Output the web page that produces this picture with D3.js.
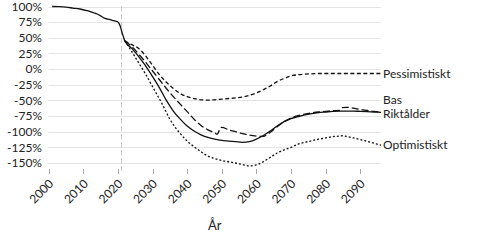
<!DOCTYPE html>
<html>
<head>
<meta charset="utf-8">
<script src="https://cdn.jsdelivr.net/npm/d3@7"></script>
<style>
  html, body { margin: 0; padding: 0; background: #fff; }
  svg { display: block; font-family: Lato, "Open Sans", sans-serif; }
</style>
</head>
<body>
<svg id="chart" width="480" height="240"></svg>
<script>
// ---- data ----
const xTicks = [2000, 2010, 2020, 2030, 2040, 2050, 2060, 2070, 2080, 2090];
const yTicks = [100, 75, 50, 25, 0, -25, -50, -75, -100, -125, -150];
const forecastStart = 2021;
const axisTitle = "År";

const bas = [
  [2001,100],[2003,99.7],[2005,99],[2007,97.5],[2009,96],[2011,93.5],[2012,92],[2013,90],
  [2014,88],[2015,85],[2016,81.5],[2017,80],[2018,78.5],[2019,77],[2019.8,76],[2020.3,73],
  [2020.7,68],[2021.1,60],[2021.5,53],[2022,45],[2024,33],[2026,20],[2028,5],[2030,-12],
  [2032,-30],[2034,-50],[2036,-67],[2038,-80],[2040,-91],[2042,-99],[2044,-105],[2046,-109],
  [2048,-112],[2050,-114],[2052,-115],[2054,-116],[2056,-117],[2058,-116],[2060,-112],
  [2062,-106],[2064,-99],[2066,-91],[2068,-84],[2070,-79],[2072,-76],[2074,-73],[2076,-71],
  [2078,-69.5],[2080,-68.5],[2082,-67.5],[2084,-67],[2086,-67],[2088,-67],[2090,-67.5],
  [2092,-68],[2094,-68.5],[2096,-69]
];
const riktalder = [
  [2022,45],[2024,36],[2026,24],[2028,11],[2030,-3],[2032,-17],[2034,-31],[2036,-44],
  [2038,-56],[2040,-68],[2042,-80],[2044,-90],[2046,-97],[2048,-102],[2048.7,-104],
  [2049.6,-94],[2050,-93],[2052,-97],[2054,-100],[2056,-103],[2058,-105.5],[2060,-107],
  [2062,-107.5],[2063,-105],[2064,-101],[2066,-92],[2068,-84],[2070,-78],[2072,-74.5],
  [2074,-72],[2076,-70],[2078,-68.5],[2080,-67.5],[2082,-66.5],[2084,-66],[2084.8,-61.5],
  [2086,-61],[2088,-62.5],[2090,-64.5],[2092,-66],[2094,-67.5],[2096,-68.5]
];
const pessimistiskt = [
  [2022,45],[2024,39],[2026,33],[2028,21],[2030,6],[2032,-9],[2034,-21],[2036,-31],
  [2038,-39],[2040,-44],[2042,-47],[2044,-49],[2046,-49.5],[2048,-49],[2050,-48],
  [2052,-47],[2054,-46],[2056,-44.5],[2058,-42],[2060,-38],[2062,-33],[2064,-27],
  [2066,-20],[2068,-15],[2070,-11],[2072,-9],[2074,-8],[2076,-7.5],[2078,-7],[2080,-7],
  [2084,-7],[2088,-7],[2092,-7],[2096,-7]
];
const optimistiskt = [
  [2022,45],[2024,28],[2026,10],[2028,-8],[2030,-28],[2031,-38],[2033,-58],[2035,-80],
  [2038,-103],[2040,-115],[2042,-124],[2044,-132],[2046,-139],[2048,-143],[2050,-146],
  [2052,-148],[2054,-150],[2056,-152.5],[2058,-154.5],[2060,-153],[2062,-148],[2064,-141],
  [2066,-134],[2068,-129],[2070,-125],[2072,-120],[2074,-117],[2076,-114.5],[2078,-112],
  [2080,-110],[2082,-108],[2084,-107],[2085,-106.5],[2086,-107.5],[2088,-110],[2090,-112.5],
  [2092,-115.5],[2094,-118.5],[2096,-121.5]
];
const seriesNames = ["Bas", "Riktålder", "Pessimistiskt", "Optimistiskt"];

// ---- chart ----
const svg = d3.select("#chart");
const x = d3.scaleLinear().domain([2000, 2096]).range([48.7, 381]);
const y = d3.scaleLinear().domain([-150, 100]).range([163, 6.5]);

// gridlines
svg.append("g").selectAll("line").data(yTicks).join("line")
  .attr("x1", x(2000)).attr("x2", x(2096))
  .attr("y1", d => Math.round(y(d)) + 0.5).attr("y2", d => Math.round(y(d)) + 0.5)
  .attr("stroke", "#e4e4e4").attr("stroke-width", 1);

// y labels
svg.append("g").selectAll("text").data(yTicks).join("text")
  .attr("x", 42).attr("y", d => y(d)).attr("dy", "0.36em")
  .attr("text-anchor", "end").attr("font-size", 12).attr("fill", "#222")
  .text(d => d + "%");

// x ticks
const xg = svg.append("g");
xg.selectAll("line").data(xTicks).join("line")
  .attr("x1", d => Math.round(x(d)) + 0.5).attr("x2", d => Math.round(x(d)) + 0.5)
  .attr("y1", 169).attr("y2", 174)
  .attr("stroke", "#aaa").attr("stroke-width", 1);
xg.selectAll("text").data(xTicks).join("text")
  .attr("transform", d => `translate(${x(d) + 5.5},184.5) rotate(-45)`)
  .attr("text-anchor", "end").attr("font-size", 12).attr("fill", "#222")
  .text(d => d);

// forecast start marker
svg.append("line")
  .attr("x1", Math.round(x(forecastStart)) + 0.5).attr("x2", Math.round(x(forecastStart)) + 0.5)
  .attr("y1", 6).attr("y2", 174)
  .attr("stroke", "#c8c8c8").attr("stroke-width", 1).attr("stroke-dasharray", "5,3");

// axis title
svg.append("text").attr("x", (x(2000) + x(2096)) / 2).attr("y", 230)
  .attr("text-anchor", "middle").attr("font-size", 13).attr("fill", "#222").text(axisTitle);

// lines
const line = d3.line().x(d => x(d[0])).y(d => y(d[1])).curve(d3.curveMonotoneX);
const series = [
  { name: seriesNames[0], data: bas, dash: null, dy: -13 },
  { name: seriesNames[1], data: riktalder, dash: "7,3", dy: 1.5 },
  { name: seriesNames[2], data: pessimistiskt, dash: "4,2.5", dy: 0 },
  { name: seriesNames[3], data: optimistiskt, dash: "2,2", dy: 0 }
];
svg.append("g").selectAll("path").data(series).join("path")
  .attr("d", d => line(d.data))
  .attr("fill", "none").attr("stroke", "#111").attr("stroke-width", 1.3)
  .attr("stroke-dasharray", d => d.dash);

svg.append("g").selectAll("text").data(series).join("text")
  .attr("x", 383).attr("y", d => y(d.data[d.data.length - 1][1]) + d.dy)
  .attr("dy", "0.36em").attr("font-size", 12).attr("fill", "#222")
  .text(d => d.name);
</script>
</body>
</html>
